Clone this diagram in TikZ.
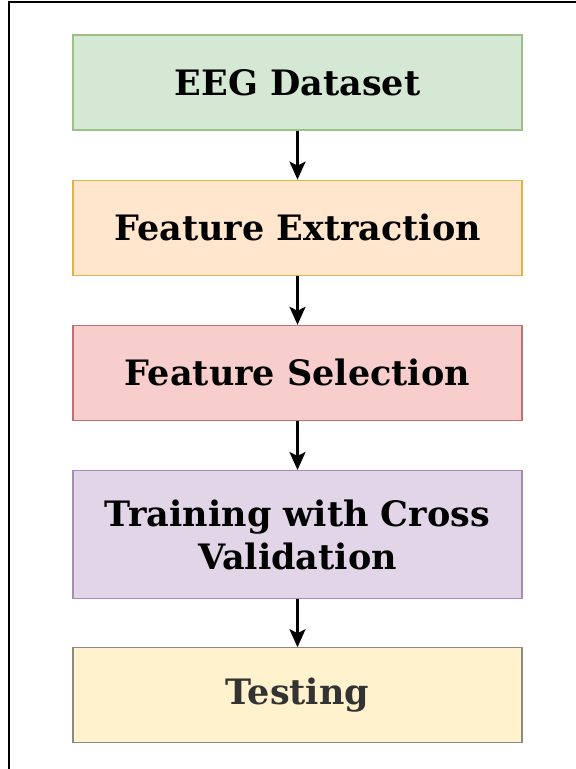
\documentclass[tikz,border=0pt]{standalone}
\usepackage{fontspec}
\setmainfont{DejaVu Serif}
\usepackage{xcolor}
\usepackage{tikz}
\usetikzlibrary{arrows.meta,positioning}
\definecolor{grn_fill}{HTML}{D5E8D4}
\definecolor{grn_line}{HTML}{9CC08A}
\definecolor{org_fill}{HTML}{FFE6CC}
\definecolor{org_line}{HTML}{E0B24A}
\definecolor{red_fill}{HTML}{F8CECC}
\definecolor{red_line}{HTML}{C07070}
\definecolor{lil_fill}{HTML}{E1D5E7}
\definecolor{lil_line}{HTML}{A58DB4}
\definecolor{yel_fill}{HTML}{FFF2CC}
\definecolor{yel_line}{HTML}{8A8A80}

\begin{document}
\begin{tikzpicture}[
x=1pt,y=1pt,
blk/.style={
  draw=#1_line,
  fill=#1_fill,
  line width=1.2pt,
  align=center,
  minimum width=449pt,
  minimum height=95pt,
  inner sep=0pt,
  font=\fontsize{35}{43}\selectfont\bfseries
  },
ar/.style={
  -{Stealth[length=18pt,width=16pt,inset=4pt]},
  line width=2.6pt
  },
node distance=49pt
]
\useasboundingbox (0,0) rectangle (576,-769);

% frame, only its top and left sides are inside the page
\draw[line width=1.5pt] (9,-769) -- (9,-2) -- (576,-2);

%The steps, top to bottom
\node[blk=grn] (data) at (297.5,-82.5)
  {EEG Dataset};
\node[blk=org,below=of data] (extr)
  {Feature Extraction};
\node[blk=red,below=of extr] (sel)
  {Feature Selection};
\node[blk=lil,below=of sel,minimum height=128pt] (train)
  {Training with Cross\\Validation};
\node[blk=yel,below=48pt of train,text=black!80] (test)
  {Testing};

\draw[ar]  (data) -- (extr);
\draw[ar]  (extr) -- (sel);
\draw[ar]  (sel) -- (train);
\draw[ar]  (train) -- (test);

\end{tikzpicture}
\end{document}
